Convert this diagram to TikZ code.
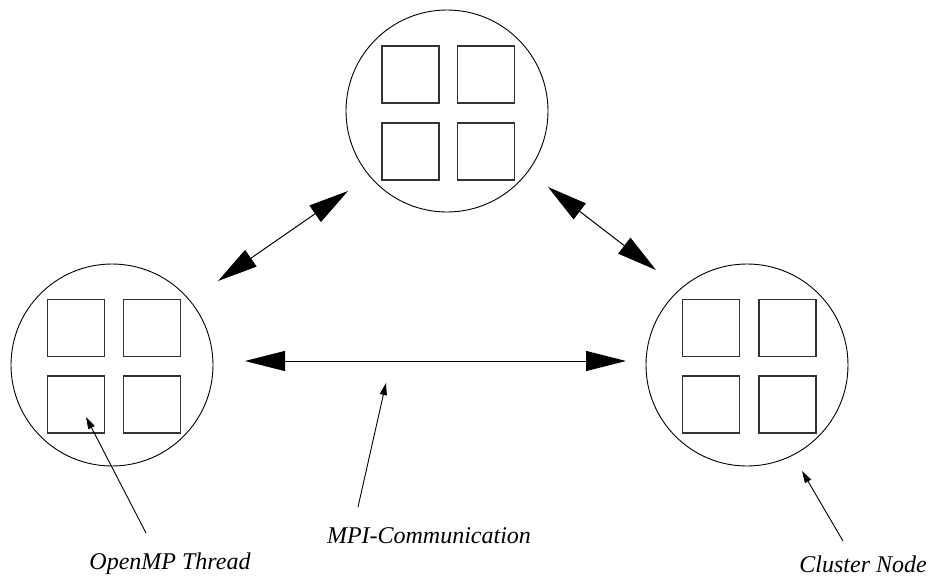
\documentclass[tikz,border=0pt]{standalone}
\usepackage{fontspec}
\setmainfont{Liberation Serif}
\usetikzlibrary{arrows.meta}
\begin{document}
\begin{tikzpicture}[x=1pt,y=-1pt,
  cluster/.style={draw,circle,minimum size=202pt,inner sep=0pt,line width=0.9pt},
  core/.style={draw,rectangle,minimum size=57pt,inner sep=0pt,line width=1.1pt,draw=black!80},
  mpi/.style={{Triangle[length=40pt,width=20pt]}-{Triangle[length=40pt,width=20pt]},line width=1pt},
  pointer/.style={-{Triangle[length=12pt,width=7pt]},line width=0.9pt},
  lbl/.style={font=\fontsize{24}{28}\selectfont\itshape,inner sep=0pt}]
\useasboundingbox (0,0) rectangle (930,576);
% cluster nodes
\node[cluster] (top) at (447,111) {};
\node[cluster] (left) at (112,365) {};
\node[cluster] (right) at (747,365) {};
% threads
\node[core] (t1) at (410.5,74.5) {};
\node[core] (t2) at (486,74.5) {};
\node[core] (t3) at (410.5,151.5) {};
\node[core] (t4) at (486,151.5) {};
\node[core] (l1) at (76,328) {};
\node[core] (l2) at (152,328) {};
\node[core] (l3) at (76,404.5) {};
\node[core] (l4) at (152,404.5) {};
\node[core] (r1) at (711,328) {};
\node[core] (r2) at (787.5,328) {};
\node[core] (r3) at (711,404.5) {};
\node[core] (r4) at (787.5,404.5) {};
% arrow end points
\coordinate (a1s) at (218,281);
\coordinate (a1e) at (348,191);
\coordinate (a2s) at (548,187);
\coordinate (a2e) at (656,270);
\coordinate (a3s) at (245,361);
\coordinate (a3e) at (626,361);
\draw[mpi] (a1s) -- (a1e);
\draw[mpi] (a2s) -- (a2e);
\draw[mpi] (a3s) -- (a3e);
% labels
\node[lbl] (omp) at (170,564) {OpenMP Thread};
\node[lbl] (mpil) at (429,536) {MPI-Communication};
\node[lbl,anchor=east] (cn) at (927,564) {Cluster Node};
\coordinate (p1s) at (146,533);
\coordinate (p1e) at (86,417);
\coordinate (p2s) at (358,507);
\coordinate (p2e) at (386,383);
\coordinate (p3s) at (843,541);
\coordinate (p3e) at (802,471);
\draw[pointer] (p1s) -- (p1e);
\draw[pointer] (p2s) -- (p2e);
\draw[pointer] (p3s) -- (p3e);
\end{tikzpicture}
\end{document}
